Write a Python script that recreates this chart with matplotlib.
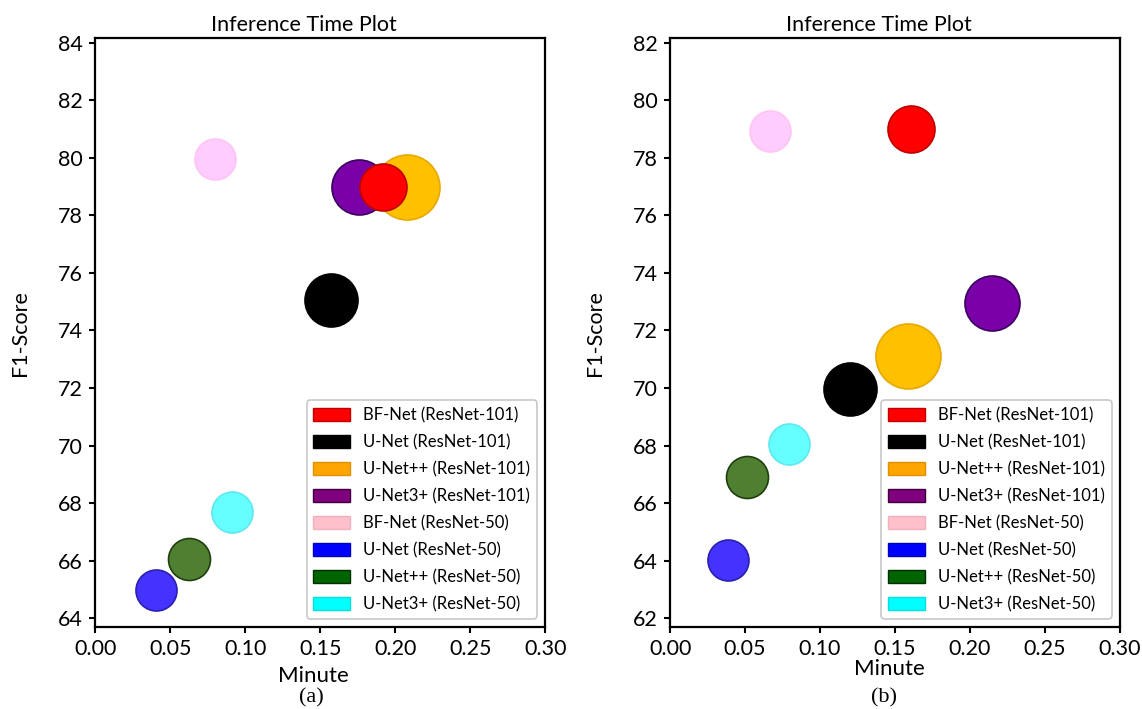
import matplotlib
matplotlib.use('Agg')
import matplotlib.pyplot as plt
from matplotlib.patches import Patch

plt.rcParams['font.family'] = ['Lato', 'DejaVu Sans']

# modelos y colores
modelos = ['BF-Net (ResNet-101)', 'U-Net (ResNet-101)', 'U-Net++ (ResNet-101)', 'U-Net3+ (ResNet-101)',
           'BF-Net (ResNet-50)', 'U-Net (ResNet-50)', 'U-Net++ (ResNet-50)', 'U-Net3+ (ResNet-50)']
color_punto = ['#ff0000', '#000000', '#ffc000', '#7a00a8', '#ffccff', '#4433ff', '#4f7f30', '#66ffff']
color_borde = ['#c00000', '#000000', '#e8a800', '#3a0060', '#ffc4f4', '#2a1fb0', '#1f3f10', '#5ee8f0']
color_leyenda = ['#ff0000', '#000000', '#ffa500', '#800080', '#ffc0cb', '#0000ff', '#006400', '#00ffff']
borde_leyenda = ['#c00000', '#000000', '#e09000', '#400040', '#f0b0c0', '#0000c0', '#003000', '#00e0e0']
# diametro del punto (px) para cada modelo
diametro = [47, 53, 65, 55, 41, 41, 42, 41]

# (a)
minutos_a = [0.192, 0.157, 0.208, 0.1755, 0.080, 0.0405, 0.0625, 0.091]
f1_a = [79.0, 75.05, 79.0, 79.0, 79.95, 64.97, 66.05, 67.7]
# (b)
minutos_b = [0.1606, 0.1197, 0.159, 0.2146, 0.0664, 0.0387, 0.051, 0.0796]
f1_b = [79.0, 69.95, 71.1, 72.95, 78.95, 64.02, 66.9, 68.05]

x_ticks = [0.00, 0.05, 0.10, 0.15, 0.20, 0.25, 0.30]
y_ticks_a = [64, 66, 68, 70, 72, 74, 76, 78, 80, 82, 84]
y_ticks_b = [62, 64, 66, 68, 70, 72, 74, 76, 78, 80, 82]

fig = plt.figure(figsize=(11.42, 7.09), dpi=100)
ax_a = fig.add_axes([0.0835, 0.1157, 0.3939, 0.8307])
ax_b = fig.add_axes([0.5868, 0.1157, 0.3938, 0.8307])


def dibujar(ax, xs, ys, yticks, ylim, pos_label, letra, x_letra, x_f1):
    orden = list(range(len(modelos)))[::-1]
    for i in orden:
        ax.scatter(xs[i], ys[i], s=(diametro[i] * 0.72) ** 2, color=color_punto[i],
                   edgecolor=color_borde[i], linewidth=1.2, zorder=3)
    ax.set_xlim(0, 0.30)
    ax.set_ylim(*ylim)
    ax.set_xticks(x_ticks)
    ax.set_xticklabels(['%.2f' % v for v in x_ticks])
    ax.set_yticks(yticks)
    ax.tick_params(direction='out', length=4, width=1.5, labelsize=15.5, pad=5)
    for s in ax.spines.values():
        s.set_linewidth(1.6)
    ax.text(0.464, 1.012, 'Inference Time Plot', transform=ax.transAxes, ha='center',
            va='baseline', fontsize=15.5)
    ax.text(pos_label[0], pos_label[1], 'Minute', transform=ax.transAxes, ha='center',
            va='baseline', fontsize=16)
    fig.text(x_f1, 0.53, 'F1-Score', rotation=90, ha='center', va='center', fontsize=15.5)
    fig.text(x_letra, 0.009, letra, ha='center', va='baseline', fontsize=16,
             family='Liberation Serif')
    handles = [Patch(facecolor=color_leyenda[i], edgecolor=borde_leyenda[i], linewidth=1,
                     label=modelos[i]) for i in range(len(modelos))]
    leg = ax.legend(handles=handles, loc='lower right', fontsize=12, handlelength=2.2,
                    handleheight=0.86, handletextpad=0.8, labelspacing=0.65,
                    borderaxespad=0.5, framealpha=1, fancybox=True)
    leg.get_frame().set_edgecolor('#c8c8c8')
    leg.get_frame().set_linewidth(1.2)


dibujar(ax_a, minutos_a, f1_a, y_ticks_a, (63.69, 84.17), (0.484, -0.0934), '(a)', 311 / 1142, 20 / 1142)
dibujar(ax_b, minutos_b, f1_b, y_ticks_b, (61.69, 82.17), (0.487, -0.0815), '(b)', 884 / 1142, 595 / 1142)

fig.savefig('out.png', dpi=100)
